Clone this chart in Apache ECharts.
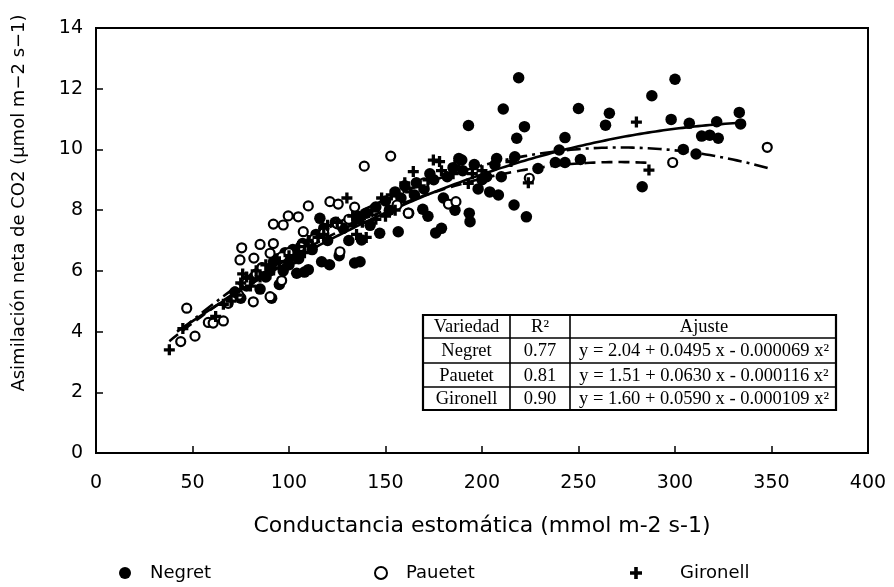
<!DOCTYPE html>
<html>
<head>
<meta charset="utf-8">
<script src="https://cdn.jsdelivr.net/npm/echarts@6/dist/echarts.min.js"></script>
<style>
  html, body { margin: 0; padding: 0; background: #fff; }
  #chart { width: 894px; height: 587px; }
</style>
</head>
<body>
<div id="chart"></div>
<script>
// Stomatal conductance (x) vs net CO2 assimilation (y) for three varieties
const varieties = ['Negret', 'Pauetet', 'Gironell'];

const negretPts = [
  [219,12.36],[211,11.33],[193,10.79],[222,10.75],[218,10.37],[250,11.35],[243,10.39],
  [266,11.19],[264,10.8],[288,11.77],[300,12.31],[298,10.99],[283,8.77],[251,9.67],
  [240,9.98],[238,9.57],[243,9.57],[229,9.37],[216.6,8.17],[223,7.78],[208.5,8.5],
  [204,8.6],[193.4,7.9],[193.8,7.62],[179,7.4],[176,7.25],[156.6,7.29],[169.3,8.03],
  [189.5,9.65],[196,9.5],[207.6,9.7],[210,9.1],[202.4,9.1],[217,9.76],[206.7,9.49],
  [307.4,10.86],[321.6,10.91],[333.3,11.22],[334,10.84],[313.8,10.44],[318,10.47],
  [322.4,10.37],[304.3,10.0],[310.9,9.85],
  [147,7.24],[137.6,7.02],[136.8,6.3],[116.9,6.3],[110,6.04],[104,5.92],[116,7.73],
  [121,6.2],[126,6.5],[131,7.0],[142,7.5],[150,8.3],[155,8.6],[160,8.8],[165,8.5],
  [170,8.7],[175,9.0],[185,9.4],[190,9.3],[198,8.7],[200,9.0],[186,8.0],[180,8.4],
  [162,7.9],[172,7.8],[95,5.55],[91,5.1],[85,5.4],[80,5.7],[100,6.2],[105,6.4],
  [112,6.7],[120,7.0],[128,7.4],[133,7.6],[140,7.9],[90,6.0],[75,5.1],[92,6.3],
  [88,5.8],[97,6.0],[108,5.96],[134,6.26],
  [72,5.3],[78,5.5],[82,5.8],[86,6.1],[94,6.4],[98,6.6],[102,6.7],[107,6.9],
  [114,7.2],[118,7.4],[124,7.6],[136,7.8],[145,8.1],[152,8.0],[158,8.4],[166,8.9],
  [173,9.2],[182,9.1],[188,9.7]
];

const pauetetPts = [
  [152.7,9.78],[182.6,8.2],[186.5,8.28],[161.8,7.9],[298.8,9.57],[224.5,9.05],
  [347.8,10.07],[110,8.14],[121.2,8.28],[125.5,8.2],[99.6,7.81],[104.8,7.78],
  [91.9,7.54],[97,7.51],[107.4,7.29],[85,6.87],[91.9,6.9],[75.5,6.76],[74.6,6.36],
  [81.8,6.42],[90.2,6.58],[96.3,6.47],[126.4,6.63],[96.2,5.68],[81.5,4.98],
  [90.2,5.15],[68.5,4.93],[47,4.77],[58.2,4.3],[60.7,4.28],[51.3,3.85],[43.9,3.67],
  [66,4.35],[139,9.45],[100,6.6],[106,6.8],[113,7.05],[118,7.25],[131,7.7],
  [134,8.1],[170,8.9],[156,8.17],[74,5.2],[78,5.6],[83,5.9],[86,6.1],[125,7.55]
];

const gironellPts = [
  [280,10.9],[286.5,9.32],[174.8,9.65],[164.4,9.27],[179,9.3],[192.9,8.88],
  [224,8.9],[38,3.4],[45,4.1],[62,4.5],[70,5.0],[72,5.3],[75,5.6],[78,5.8],[80,5.5],
  [83,6.0],[88,6.2],[90,5.9],[95,6.3],[100,6.5],[105,6.8],[110,7.0],[115,7.1],
  [120,7.5],[125,7.6],[130,8.4],[135,7.2],[140,7.1],[145,7.7],[150,7.8],[155,8.0],
  [160,8.9],[168,8.8],[178,9.6],[185,9.2],[200,9.3],[215,9.6],
  [66,4.9],[73,5.2],[76,5.9],[85,5.8],[92,6.1],[98,6.1],[103,6.4],[108,6.6],
  [112,6.8],[118,7.2],[128,7.4],[133,7.8],[138,7.6],[143,8.0],[148,8.4],[153,8.5],
  [163,8.6],[172,9.0],[188,9.6],[195,9.2]
];

// Quadratic fits y = a + b x + c x^2 (coefficients as stated in the table)
const fitA = [2.04, 1.51, 1.60];
const fitB = [0.0495, 0.0630, 0.0590];
const fitC = [-0.000069, -0.000116, -0.000109];
const fitR2 = ['0.77', '0.81', '0.90'];
const fitText = [
  'y = 2.04 + 0.0495 x - 0.000069 x²',
  'y = 1.51 + 0.0630 x - 0.000116 x²',
  'y = 1.60 + 0.0590 x - 0.000109 x²'
];
// Range of conductance covered by each fitted curve
const fitXMin = [42, 44, 38];
const fitXMax = [334, 348, 288];

const xTicks = [0, 50, 100, 150, 200, 250, 300, 350, 400];
const yTicks = [0, 2, 4, 6, 8, 10, 12, 14];

function fitCurve(i) {
  const pts = [];
  for (let x = fitXMin[i]; x <= fitXMax[i]; x += 2) {
    pts.push([x, fitA[i] + fitB[i] * x + fitC[i] * x * x]);
  }
  return pts;
}

const sansFont = 'DejaVu Sans';
const serifFont = 'Liberation Serif';
const plusPath = 'path://M3.5,0H6.5V3.5H10V6.5H6.5V10H3.5V6.5H0V3.5H3.5Z';

const lineTypes = ['solid', [14, 5, 3, 5], [11, 6]];

const chart = echarts.init(document.getElementById('chart'), null, { renderer: 'canvas' });

// Regression table drawn as a boxed grid of cells
const tblY = 315, rowH = [23, 25, 24, 23];
const colX = [423, 510, 570, 836];
const tableEls = [];
const rows = [['Variedad', 'R²', 'Ajuste']].concat(
  varieties.map((v, i) => [v, fitR2[i], fitText[i]])
);
let yCursor = tblY;
rows.forEach((r, ri) => {
  r.forEach((txt, ci) => {
    tableEls.push({
      type: 'text',
      x: (colX[ci] + colX[ci + 1]) / 2 + (ci === 2 ? 1 : 0),
      y: yCursor + rowH[ri] / 2 + 1,
      style: {
        text: txt, font: '18.5px "' + serifFont + '"', fill: '#000',
        align: 'center', verticalAlign: 'middle'
      }
    });
  });
  yCursor += rowH[ri];
});
const tblH = rowH.reduce((s, v) => s + v, 0);
tableEls.push({
  type: 'rect', shape: { x: colX[0], y: tblY, width: colX[3] - colX[0], height: tblH },
  style: { fill: '#fff', stroke: '#000', lineWidth: 2.2 }, z: -1
});
let yLine = tblY;
for (let ri = 0; ri < rowH.length - 1; ri++) {
  yLine += rowH[ri];
  tableEls.push({ type: 'line', shape: { x1: colX[0], y1: yLine, x2: colX[3], y2: yLine },
    style: { stroke: '#000', lineWidth: 1.6 } });
}
[colX[1], colX[2]].forEach(cx => {
  tableEls.push({ type: 'line', shape: { x1: cx, y1: tblY, x2: cx, y2: tblY + tblH },
    style: { stroke: '#000', lineWidth: 1.6 } });
});

const scatterSeries = [
  { name: 'Negret', data: negretPts, symbol: 'circle', symbolSize: 11.5,
    itemStyle: { color: '#000', opacity: 1 } },
  { name: 'Pauetet', data: pauetetPts, symbol: 'circle', symbolSize: 9,
    itemStyle: { color: '#fff', borderColor: '#000', borderWidth: 2.2, opacity: 1 } },
  { name: 'Gironell', data: gironellPts, symbol: plusPath, symbolSize: 11,
    itemStyle: { color: '#000', opacity: 1 } }
].map(s => Object.assign({ type: 'scatter', z: 3, animation: false }, s));

const lineSeries = varieties.map((v, i) => ({
  type: 'line', name: v + ' ajuste', data: fitCurve(i), showSymbol: false,
  smooth: false, z: 2, animation: false, silent: true,
  lineStyle: { color: '#000', width: 2.6, type: lineTypes[i] }
}));

function legendAt(left, name, gap) {
  return {
    top: 559, left: left, orient: 'horizontal', itemWidth: 12, itemHeight: 12,
    data: [name],
    textStyle: { fontFamily: sansFont, fontSize: 18, color: '#000', padding: [0, 0, 0, gap] }
  };
}

chart.setOption({
  backgroundColor: '#fff',
  animation: false,
  grid: { left: 96, right: 26, top: 28, bottom: 134, show: true,
    borderColor: '#000', borderWidth: 2, outerBoundsMode: 'none' },
  xAxis: {
    type: 'value', min: 0, max: 400, interval: 50,
    name: 'Conductancia estomática (mmol m-2 s-1)', nameLocation: 'middle', nameGap: 62,
    nameTextStyle: { fontFamily: sansFont, fontSize: 22, color: '#000' },
    axisLine: { lineStyle: { color: '#000', width: 2 } },
    axisTick: { inside: true, length: 7, lineStyle: { color: '#000', width: 1.5 } },
    axisLabel: { fontFamily: sansFont, fontSize: 19, color: '#000', margin: 21,
      formatter: v => xTicks.includes(v) ? String(v) : '' },
    splitLine: { show: false }
  },
  yAxis: {
    type: 'value', min: 0, max: 14, interval: 2,
    axisLine: { lineStyle: { color: '#000', width: 2 } },
    axisTick: { inside: true, length: 7, lineStyle: { color: '#000', width: 1.5 } },
    axisLabel: { fontFamily: sansFont, fontSize: 19, color: '#000', margin: 13,
      formatter: v => yTicks.includes(v) ? String(v) : '' },
    splitLine: { show: false }
  },
  legend: [
    legendAt(114, 'Negret', 14),
    legendAt(369, 'Pauetet', 14),
    legendAt(625, 'Gironell', 33)
  ],
  graphic: [
    {
      type: 'text', x: 19, y: 203, rotation: Math.PI / 2,
      style: { text: 'Asimilación neta de CO2 (μmol m−2 s−1)', font: '18px "' + sansFont + '"',
        fill: '#000', align: 'center', verticalAlign: 'middle' }
    },
    { type: 'group', children: tableEls, z: 10 }
  ],
  series: lineSeries.concat(scatterSeries)
});
</script>
</body>
</html>
